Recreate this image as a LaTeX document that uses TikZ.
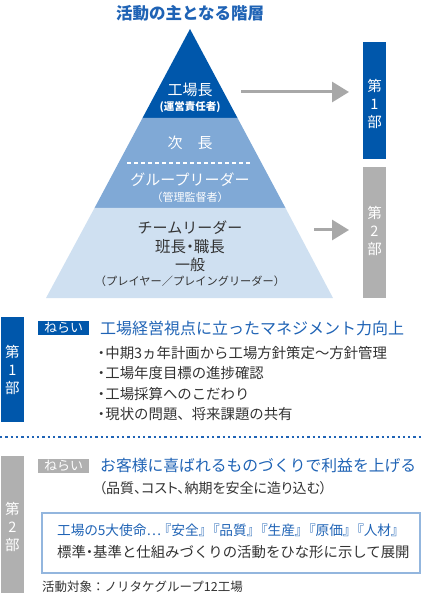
\documentclass[tikz,border=0pt]{standalone}
\usepackage{fontspec}
\setmainfont{Noto Sans CJK JP}
\newfontfamily\pfont[RawFeature=+palt]{Noto Sans CJK JP}
\usetikzlibrary{arrows.meta}
\definecolor{dblue}{HTML}{0057AB}
\definecolor{mblue}{HTML}{80A9D6}
\definecolor{lblue}{HTML}{CFE0F1}
\definecolor{gbox}{HTML}{B0B0B0}
\definecolor{garrow}{HTML}{A8A8A8}
\definecolor{tblue}{HTML}{1F63B5}
\definecolor{tdark}{HTML}{333333}
\definecolor{bborder}{HTML}{93B6DE}
\newcommand{\grp}[1]{\kern3.5pt『#1』\kern3.5pt}
\newcommand{\hdot}{\kern-0.25em・\kern-0.25em}
\newcommand{\bdot}{・\kern-0.22em}
\tikzset{
  lbl/.style={inner sep=0pt, align=center},
  bul/.style={inner sep=0pt, anchor=west, font=\fontsize{14.4}{14}\selectfont, text=tdark},
  vtext/.style={inner sep=0pt, align=center, text=white, font=\fontsize{14.5}{18}\selectfont},
  tagbox/.style={inner sep=0pt, minimum width=51pt, minimum height=14pt, text=white, font=\fontsize{13}{13}\selectfont},
  bigarrow/.style={draw=garrow, line width=3pt, -{Triangle[length=17pt,width=20pt]}},
}
\begin{document}
\begin{tikzpicture}[x=1pt,y=-1pt]
\useasboundingbox (0,0) rectangle (421,601);
% title
\node[lbl, text=tblue, font=\fontsize{16.5}{17}\selectfont\bfseries] (title) at (190,13) {活動の主となる階層};
% pyramid
\fill[dblue] (190,29) -- (237.5,118) -- (142.5,118) -- cycle;
\fill[mblue] (142.5,118) -- (237.5,118) -- (285.5,208) -- (94.5,208) -- cycle;
\fill[lblue] (94.5,208) -- (285.5,208) -- (333,298) -- (46,298) -- cycle;
\draw[white, line width=2pt, dash pattern=on 4pt off 3pt] (127,163) -- (251,163);
\node[lbl, text=white, font=\fontsize{15}{16}\selectfont] (koujou) at (190,90) {工場長};
\node[lbl, text=white, font=\fontsize{10.5}{11}\selectfont\bfseries] (unei) at (190,107) {(運営責任者)};
\node[lbl, text=white, font=\fontsize{15}{16}\selectfont] (jicho) at (190,143) {次　長};
\node[lbl, text=white, font=\fontsize{15}{16}\selectfont] (group) at (190,180) {グループリーダー};
\node[lbl, text=white, font=\fontsize{11}{12}\selectfont] (kanri) at (190,197) {（管理監督者）};
\node[lbl, text=tdark, font=\fontsize{15}{16}\selectfont] (team) at (190,228) {チームリーダー};
\node[lbl, text=tdark, font=\fontsize{15.5}{16}\selectfont] (hancho) at (190,247) {班長\hdot 職長};
\node[lbl, text=tdark, font=\fontsize{15}{16}\selectfont] (ippan) at (190,265) {一般};
\node[lbl, text=tdark, font=\fontsize{11.2}{12}\selectfont] (player) at (190,281) {（プレイヤー／プレイングリーダー）};
% right boxes
\node[fill=dblue, minimum width=23pt, minimum height=117pt, inner sep=0pt, anchor=north west] (bu1) at (363,42) {};
\node[vtext] (bu1t) at (374.5,104) {第\\1\\部};
\node[fill=gbox, minimum width=23pt, minimum height=131pt, inner sep=0pt, anchor=north west] (bu2) at (363,167) {};
\node[vtext] (bu2t) at (374.5,231) {第\\2\\部};
\coordinate (a1s) at (241,92);
\coordinate (a1e) at (349,92);
\coordinate (a2s) at (314,230);
\coordinate (a2e) at (349,230);
\draw[bigarrow] (a1s) -- (a1e);
\draw[bigarrow] (a2s) -- (a2e);
% lower part 1
\node[fill=dblue, minimum width=23pt, minimum height=105pt, inner sep=0pt, anchor=north west] (s1) at (1,317) {};
\node[vtext] (s1t) at (12.5,370) {第\\1\\部};
\node[tagbox, fill=dblue, anchor=north west] (tag1) at (38,321) {ねらい};
\node[inner sep=0pt, anchor=west, text=tblue, font=\fontsize{16}{16}\selectfont] (head1) at (100,328) {工場経営視点に立ったマネジメント力向上};
\node[bul] (b1) at (94,353) {\bdot 中期3ヵ年計画から工場方針策定～方針管理};
\node[bul] (b2) at (94,373) {\bdot 工場年度目標の進捗確認};
\node[bul] (b3) at (94,394) {\bdot 工場採算へのこだわり};
\node[bul] (b4) at (94,414) {\bdot 現状の問題、将来課題の共有};
% divider
\draw[tblue, line width=2pt, dash pattern=on 2.3pt off 3pt] (0,437) -- (421,437);
% lower part 2
\node[fill=gbox, minimum width=23pt, minimum height=137pt, inner sep=0pt, anchor=north west] (s2) at (1,456) {};
\node[vtext] (s2t) at (12.5,527) {第\\2\\部};
\node[tagbox, fill=gbox, anchor=north west] (tag2) at (38,459) {ねらい};
\node[inner sep=0pt, anchor=west, text=tblue, font=\fontsize{15.8}{16}\selectfont] (head2) at (100,465) {お客様に喜ばれるものづくりで利益を上げる};
\node[bul, font=\pfont\fontsize{14}{14}\selectfont] (sub2) at (99,488) {（品質、コスト、納期を安全に造り込む）};
\node[draw=bborder, line width=2pt, minimum width=378pt, minimum height=60pt, inner sep=0pt, anchor=north west] (mbox) at (41,511.5) {};
\node[inner sep=0pt, anchor=west, text=tblue, font=\pfont\fontsize{13.7}{14}\selectfont] (m1) at (57,530) {工場の5大使命…\grp{安全}\grp{品質}\grp{生産}\grp{原価}\grp{人材}};
\node[inner sep=0pt, anchor=west, text=tdark, font=\fontsize{14.4}{14}\selectfont] (m2) at (57,552) {標準\hdot 基準と仕組みづくりの活動をひな形に示して展開};
\node[inner sep=0pt, anchor=west, text=tdark, font=\fontsize{12.5}{13}\selectfont] (foot) at (42,587) {活動対象：ノリタケグループ12工場};
\end{tikzpicture}
\end{document}
